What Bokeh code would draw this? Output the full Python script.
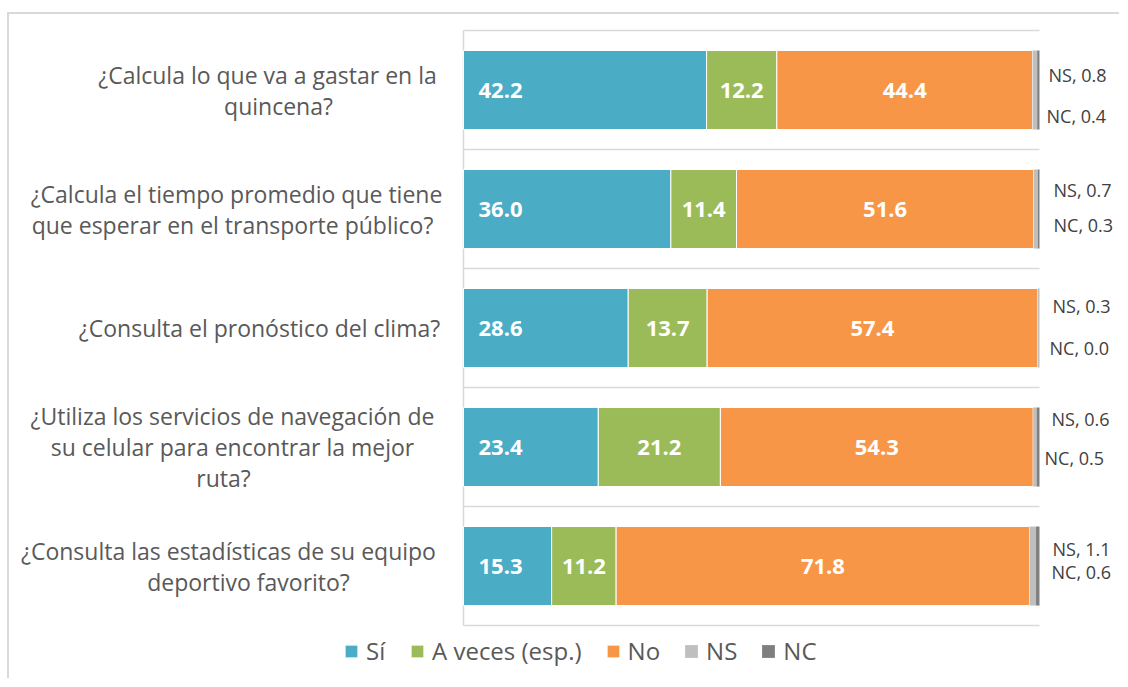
from bokeh.plotting import figure
from bokeh.models import ColumnDataSource, LabelSet, Legend, LegendItem, Range1d
from bokeh.embed import file_html
from bokeh.resources import INLINE
from bokeh.core.properties import value

categories = [
    "¿Calcula lo que va a gastar en la\nquincena?",
    "¿Calcula el tiempo promedio que tiene\nque esperar en el transporte público?",
    "¿Consulta el pronóstico del clima?",
    "¿Utiliza los servicios de navegación de\nsu celular para encontrar la mejor\nruta?",
    "¿Consulta las estadísticas de su equipo\ndeportivo favorito?",
]
series = ["Sí", "A veces (esp.)", "No", "NS", "NC"]
si = [42.2, 36.0, 28.6, 23.4, 15.3]
a_veces = [12.2, 11.4, 13.7, 21.2, 11.2]
no = [44.4, 51.6, 57.4, 54.3, 71.8]
ns = [0.8, 0.7, 0.3, 0.6, 1.1]
nc = [0.4, 0.3, 0.0, 0.5, 0.6]
colors = ["#4BACC6", "#9BBB59", "#F79646", "#BFBFBF", "#7F7F7F"]

# ---- style-only pixel offsets ----
cat_dx = [-196, -227, -204, -231, -235]     # centre of each wrapped label block
line_nudge = [[0, 11], [0, -4], [0], [0, 0, -9], [0, 20]]
line_px = 31                                # spacing of wrapped label lines
ns_dx = [9, 14, 13, 12, 13]
nc_dx = [7, 14, 10, 5, 12]
ns_up = [15, 19, 22, 28, 17]
nc_up = [-26, -16, -20, -11, -6]

FONT = value("Open Sans")
n = len(categories)
ypos = [i + 0.5 for i in range(n)]
keys = ["si", "av", "no", "ns", "nc"]
data = dict(y=ypos, si=si, av=a_veces, no=no, ns=ns, nc=nc)
data["zero"] = [0] * n
data["av_mid"] = [s + a / 2 for s, a in zip(si, a_veces)]
data["no_mid"] = [s + a + b / 2 for s, a, b in zip(si, a_veces, no)]
data["total"] = [s + a + b + c + d for s, a, b, c, d in zip(si, a_veces, no, ns, nc)]
data["si_txt"] = [f"{v:.1f}" for v in si]
data["av_txt"] = [f"{v:.1f}" for v in a_veces]
data["no_txt"] = [f"{v:.1f}" for v in no]
data["ns_txt"] = [f"NS, {v:.1f}" for v in ns]
data["nc_txt"] = [f"NC, {v:.1f}" for v in nc]
data.update(ns_dx=ns_dx, nc_dx=nc_dx, ns_up=ns_up, nc_up=nc_up)
source = ColumnDataSource(data)

# one entry per wrapped line of the category labels
lines = dict(x=[], y=[], text=[], dx=[], up=[])
for i, cat in enumerate(categories):
    parts = cat.split("\n")
    k = len(parts)
    for j, t in enumerate(parts):
        lines["x"].append(0)
        lines["y"].append(ypos[i])
        lines["text"].append(t)
        lines["dx"].append(cat_dx[i] + line_nudge[i][j])
        lines["up"].append(((k - 1) / 2 - j) * line_px)
line_src = ColumnDataSource(lines)

full = max(data["total"])
bounds = list(range(n + 1))

# frame covers the whole chart box; 5.76 px per percent, 119 px per row
p = figure(width=1110, height=664, output_backend="svg", toolbar_location=None,
           x_range=Range1d(-78.82, 113.89), y_range=Range1d(5.445, -0.1345),
           x_axis_location=None, y_axis_location=None,
           min_border=0, margin=(14, 0, 0, 9))
p.stylesheets = [":host { box-shadow: -2px 0 0 0 #d9d9d9, 0 -2px 0 0 #d9d9d9, -2px -2px 0 0 #d9d9d9; }"]
p.outline_line_color = None
p.grid.visible = False

# grid lines at category boundaries and the vertical axis line
p.segment(x0=0, x1=full, y0=bounds, y1=bounds, line_color="#d9d9d9", line_width=1.5)
p.segment(x0=0, x1=0, y0=bounds[0], y1=bounds[-1], line_color="#d9d9d9", line_width=1.5)

renderers = p.hbar_stack(keys, y="y", height=0.664, source=source,
                         color=colors, line_color="white",
                         line_alpha=[1, 1, 1, 0, 0], line_width=1)

p.add_layout(LabelSet(source=line_src, x="x", y="y", text="text", x_offset="dx",
                      y_offset="up", text_align="center", text_baseline="middle",
                      text_font=FONT, text_color="#595959", text_font_size="23px"))

common = dict(source=source, y="y", text_font=FONT, text_baseline="middle")
bold = dict(text_color="white", text_font_style="bold", text_font_size="22px")
p.add_layout(LabelSet(x="zero", text="si_txt", x_offset=15, text_align="left", **bold, **common))
p.add_layout(LabelSet(x="av_mid", text="av_txt", text_align="center", **bold, **common))
p.add_layout(LabelSet(x="no_mid", text="no_txt", text_align="center", **bold, **common))
p.add_layout(LabelSet(x="total", text="ns_txt", x_offset="ns_dx", y_offset="ns_up",
                      text_align="left", text_color="#404040",
                      text_font_size="18px", **common))
p.add_layout(LabelSet(x="total", text="nc_txt", x_offset="nc_dx", y_offset="nc_up",
                      text_align="left", text_color="#404040",
                      text_font_size="18px", **common))

legend = Legend(items=[LegendItem(label=s, renderers=[r]) for s, r in zip(series, renderers)],
                orientation="horizontal", location=(334, 11),
                glyph_width=16, glyph_height=16, label_height=16,
                label_standoff=7, spacing=23, padding=0, margin=0,
                border_line_color=None, background_fill_alpha=0,
                label_text_font="Open Sans", label_text_font_size="24px",
                label_text_color="#595959")
p.add_layout(legend, "center")

open("out.html", "w").write(file_html(p, INLINE))
